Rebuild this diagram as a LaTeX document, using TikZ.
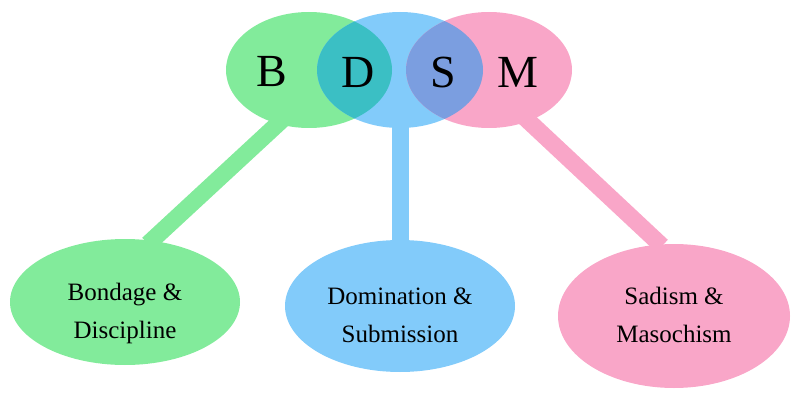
\documentclass[tikz,border=0pt]{standalone}
\usepackage{fontspec}
\setmainfont{Liberation Serif}
\usetikzlibrary{shapes.geometric}
\newcommand{\labfont}{\fontsize{25}{38}\selectfont}
\begin{document}
\begin{tikzpicture}[x=1pt,y=-1pt,
  bar/.style={line width=17pt},
  big/.style={font=\fontsize{46}{46}\selectfont},
  lab/.style={ellipse,inner sep=0pt}]
\definecolor{cg}{HTML}{82EB9B}
\definecolor{cb}{HTML}{82CBFA}
\definecolor{cp}{HTML}{F9A6C8}
\definecolor{ct}{HTML}{3BBFC4}
\definecolor{cv}{HTML}{7B9EE0}
\useasboundingbox (0,0) rectangle (800,401);
\coordinate (g) at (309,70);
\coordinate (b) at (400,70);
\coordinate (p) at (489,70);
\coordinate (g1) at (282,120); \coordinate (g2) at (148,244);
\coordinate (b1) at (400,120); \coordinate (b2) at (400,242);
\coordinate (p1) at (522,115); \coordinate (p2) at (662,246);
% bars
\draw[bar,cg] (g1) -- (g2);
\draw[bar,cb] (b1) -- (b2);
\draw[bar,cp] (p1) -- (p2);
% bottom ellipses
\node[lab,fill=cg,minimum width=230pt,minimum height=126pt] (e1) at (125,302) {};
\node[lab,fill=cb,minimum width=230pt,minimum height=132pt] (e2) at (400,306) {};
\node[lab,fill=cp,minimum width=232pt,minimum height=144pt] (e3) at (674,316) {};
\node[align=center,font=\labfont] (t1) at (125,313) {Bondage \&\\Discipline};
\node[align=center,font=\labfont] (t2) at (400,315) {Domination \&\\Submission};
\node[align=center,font=\labfont] (t3) at (674,315) {Sadism \&\\Masochism};
% top ellipses
\fill[cg] (g) ellipse [x radius=83,y radius=58];
\fill[cb] (b) ellipse [x radius=83,y radius=58];
\fill[cp] (p) ellipse [x radius=83,y radius=58];
\begin{scope}
\clip (g) ellipse [x radius=83,y radius=58];
\fill[ct] (b) ellipse [x radius=83,y radius=58];
\end{scope}
\begin{scope}
\clip (b) ellipse [x radius=83,y radius=58];
\fill[cv] (p) ellipse [x radius=83,y radius=58];
\end{scope}
\node[big] (B) at (272,72) {B};
\node[big] (D) at (358,72) {D};
\node[big] (S) at (443,72) {S};
\node[big] (M) at (518,72) {M};
\end{tikzpicture}
\end{document}
